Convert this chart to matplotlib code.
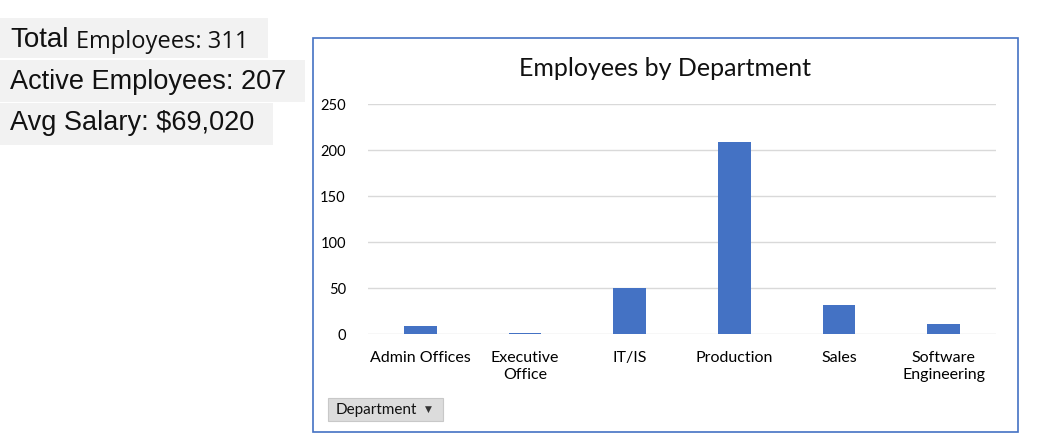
import matplotlib.pyplot as plt
import matplotlib.patches as patches
import numpy as np

departments = ["Admin Offices", "Executive\nOffice", "IT/IS", "Production", "Sales", "Software\nEngineering"]
employees = [9, 1, 50, 209, 31, 11]
y_ticks = [0, 50, 100, 150, 200, 250]

W, H = 1045, 440
fig = plt.figure(figsize=(W / 100, H / 100), dpi=100)
fig.patch.set_facecolor("white")

def fx(px):
    return px / W

def fy(py):
    return 1 - py / H

# KPI boxes on the left
boxes = [(0, 18, 268, 58), (0, 60, 305, 102), (0, 103, 273, 145)]
for x0, y0, x1, y1 in boxes:
    fig.patches.append(patches.Rectangle((fx(x0), fy(y1)), fx(x1 - x0), (y1 - y0) / H,
                                         transform=fig.transFigure, facecolor="#f2f2f2",
                                         edgecolor="none", zorder=-2))

fig.text(fx(10), fy(40), "Total", fontsize=20, family="Liberation Sans", va="center", color="#111111")
fig.text(fx(76), fy(42), "Employees: 311", fontsize=17, family="Open Sans", va="center", color="#111111")
fig.text(fx(10), fy(82), "Active Employees: 207", fontsize=19.5, family="Liberation Sans", va="center", color="#111111")
fig.text(fx(10), fy(123), "Avg Salary: $69,020", fontsize=19.5, family="Liberation Sans", va="center", color="#111111")

# chart frame
fig.patches.append(patches.Rectangle((fx(313), fy(432)), fx(1018 - 313), (432 - 38) / H,
                                     transform=fig.transFigure, facecolor="white",
                                     edgecolor="#4472c4", linewidth=1.2, zorder=-2))

ax = fig.add_axes([fx(368), fy(334), fx(996 - 368), (334 - 104) / H])
ax.set_zorder(2)
x = np.arange(len(departments))
ax.bar(x, employees, width=0.31, color="#4472c4", zorder=3)
ax.set_xlim(-0.5, len(departments) - 0.5)
ax.set_ylim(0, 250)
ax.set_yticks(y_ticks)
ax.set_yticklabels([str(v) for v in y_ticks], fontsize=10.5, family="Lato")
ax.set_xticks(x)
ax.set_xticklabels(departments, fontsize=11.5, family="Lato", linespacing=1.3, va="top")
ax.tick_params(length=0, pad=16, axis="y")
ax.tick_params(length=0, pad=12, axis="x")
ax.grid(axis="y", color="#d9d9d9", linewidth=1, zorder=0)
ax.set_axisbelow(True)
for s in ax.spines.values():
    s.set_visible(False)
ax.set_facecolor("none")

fig.text(fx(665), fy(68), "Employees by Department", fontsize=18, family="Lato",
         ha="center", va="center", color="#111111")

# field button
fig.patches.append(patches.Rectangle((fx(328), fy(421)), fx(443 - 328), (421 - 398) / H,
                                     transform=fig.transFigure, facecolor="#dcdcdc",
                                     edgecolor="#c8c8c8", linewidth=0.8, zorder=1))
fig.text(fx(336), fy(410), "Department", fontsize=11, family="Lato", va="center", color="#111111")
fig.text(fx(425), fy(409), "▼", fontsize=6.5, family="DejaVu Sans", va="center", color="#333333")

fig.savefig("out.png", dpi=100)
